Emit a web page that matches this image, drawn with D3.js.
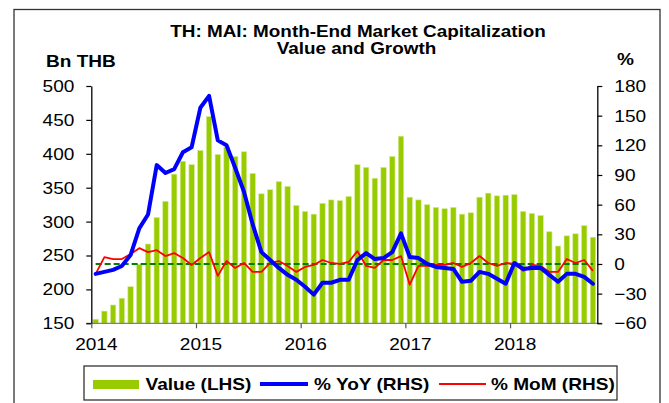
<!DOCTYPE html>
<html><head><meta charset="utf-8">
<script src="https://cdn.jsdelivr.net/npm/d3@7"></script>
<style>
html,body{margin:0;padding:0;background:#fff;}
text{font-family:"Liberation Sans",Arial,sans-serif;fill:#000;}
</style></head>
<body><svg id="c" width="669" height="403"></svg>
<script>
// ---- data ----
const months = d3.range(58); // Jan 2014 .. Oct 2018
const valueLHS = [156,168,177,187,204,237,267,306,330,370,389,384,405,455,399,410,396,403,371,341,
  347,359,352,324,315,311,327,332,331,337,384,380,364,380,396,426,336,332,325,321,
  319,321,311,313,336,342,338,339,340,315,312,309,285,264,279,282,294,277];
const yoyRHS = [-10,-8,-6,-2,9,36,50,100,92,96,113,118,158,170,125,120,97,73,40,12,
  4,-4,-11,-16,-23,-31,-19,-19,-16,-16,4,11,5,6,12,31,7,6,0,-3,
  -4,-5,-18,-17,-8,-10,-15,-20,1,-5,-4,-4,-11,-18,-10,-10,-13,-20];
const momRHS = [-10,7,5,5,10,16,12,14,8,11,6,-1,6,12,-12,3,-4,1,-8,-8,
  1,3,-2,-8,-3,-1,4,1,0,2,13,-2,-4,4,4,8,-21,-2,-2,-1,
  -1,1,-3,1,8,1,-2,1,0,-7,-1,-2,-8,-8,5,1,4,-7];
const zeroLine = months.map(() => 0);
const leftTicks = [150,200,250,300,350,400,450,500];
const rightTicks = [-60,-30,0,30,60,90,120,150,180];
const yearTickMonths = [0,12,24,36,48];
const yearLabels = ["2014","2015","2016","2017","2018"];
const titleLines = ["TH: MAI: Month-End Market Capitalization","Value and Growth"];
const legendItems = ["Value (LHS)","% YoY (RHS)","% MoM (RHS)"];

// ---- layout ----
const L = 91.3, R = 597.3, T = 86, B = 323.3;
const SX = 1.12;
const svg = d3.select("#c");

svg.append("rect").attr("x",14).attr("y",9.5).attr("width",646).attr("height",400)
  .attr("fill","none").attr("stroke","#333").attr("stroke-width",1.3);

const xb = d3.scaleBand().domain(months).range([L,R]).paddingInner(0.38).paddingOuter(0.19);
const xm = d3.scaleLinear().domain([0,58]).range([L,R]);
const yL = d3.scaleLinear().domain([150,500]).range([B,T]);
const yR = d3.scaleLinear().domain([-60,180]).range([B,T]);
const cx = i => xb(i) + xb.bandwidth()/2;

// bars
svg.append("g").selectAll("rect").data(valueLHS).join("rect")
  .attr("x",(d,i)=>xb(i)).attr("width",xb.bandwidth())
  .attr("y",d=>yL(d)).attr("height",d=>B-yL(d))
  .attr("fill","#99cc00").attr("stroke","#d6eb95").attr("stroke-width",0.6);

// zero dashed line
svg.append("path").datum(zeroLine)
  .attr("d",d3.line().x((d,i)=>cx(i)).y(d=>yR(d)))
  .attr("fill","none").attr("stroke","#008000").attr("stroke-width",1.8).attr("stroke-dasharray","6,3");

// MoM
svg.append("path").datum(momRHS)
  .attr("d",d3.line().x((d,i)=>cx(i)).y(d=>yR(d)))
  .attr("fill","none").attr("stroke","#ff0000").attr("stroke-width",1.8).attr("stroke-linejoin","round");
// YoY
svg.append("path").datum(yoyRHS)
  .attr("d",d3.line().x((d,i)=>cx(i)).y(d=>yR(d)))
  .attr("fill","none").attr("stroke","#0000ff").attr("stroke-width",4).attr("stroke-linejoin","round").attr("stroke-linecap","round");

// bottom axis line
svg.append("line").attr("x1",86).attr("x2",602).attr("y1",B).attr("y2",B)
  .attr("stroke","#808080").attr("stroke-width",1.3);

// axes
const axL = svg.append("g").attr("transform",`translate(${L},0)`)
  .call(d3.axisLeft(yL).tickValues(leftTicks).tickSize(5).tickSizeOuter(0).tickPadding(12));
const axR = svg.append("g").attr("transform",`translate(${R},0)`)
  .call(d3.axisRight(yR).tickValues(rightTicks).tickSize(5).tickSizeOuter(0).tickPadding(12));
const axB = svg.append("g").attr("transform",`translate(0,${B})`)
  .call(d3.axisBottom(xm).tickValues(yearTickMonths).tickFormat((d,i)=>yearLabels[i]).tickSize(5).tickSizeOuter(0));
axB.select(".domain").remove();
[axL,axR,axB].forEach(a=>{
  a.selectAll(".domain").attr("stroke","#000").attr("stroke-width",1.3);
  a.selectAll(".tick line").attr("stroke","#000").attr("stroke-width",1.2);
  a.selectAll("text").attr("font-size",17).attr("font-family","Liberation Sans, Arial, sans-serif").attr("fill","#000");
});
axB.selectAll(".tick line").attr("stroke","#555");
axB.selectAll("text").attr("x",4.5).attr("dy",null).attr("y",27);

// titles
const tg = svg.append("g").attr("font-weight","bold").attr("font-size",16);
tg.append("text").attr("x",358).attr("y",36.5).attr("text-anchor","middle").text(titleLines[0]);
tg.append("text").attr("x",356.5).attr("y",54).attr("text-anchor","middle").text(titleLines[1]);
tg.append("text").attr("x",46).attr("y",66.5).attr("font-size",17).text("Bn THB");
tg.append("text").attr("x",617).attr("y",65).attr("font-size",17).text("%");

// legend
svg.append("rect").attr("x",84).attr("y",366).attr("width",533).attr("height",34)
  .attr("fill","#fff").attr("stroke","#333").attr("stroke-width",1.3);
const lg = svg.append("g").attr("font-weight","bold").attr("font-size",17);
lg.append("rect").attr("x",93).attr("y",380).attr("width",46).attr("height",9).attr("fill","#99cc00");
lg.append("text").attr("x",145.5).attr("y",389.5).text(legendItems[0]);
lg.append("line").attr("x1",260).attr("x2",308).attr("y1",384).attr("y2",384).attr("stroke","#0000ff").attr("stroke-width",4);
lg.append("text").attr("x",314).attr("y",389.5).text(legendItems[1]);
lg.append("line").attr("x1",439).attr("x2",486).attr("y1",384).attr("y2",384).attr("stroke","#ff0000").attr("stroke-width",1.8);
lg.append("text").attr("x",491).attr("y",389.5).text(legendItems[2]);

// horizontal stretch of text to match reference proportions
svg.selectAll("text").each(function(){
  const w = this.getComputedTextLength();
  const el = d3.select(this);
  const isTitle = titleLines.includes(el.text());
  el.attr("textLength", w*(isTitle ? 1.18 : SX)).attr("lengthAdjust","spacingAndGlyphs");
});
</script></body></html>
